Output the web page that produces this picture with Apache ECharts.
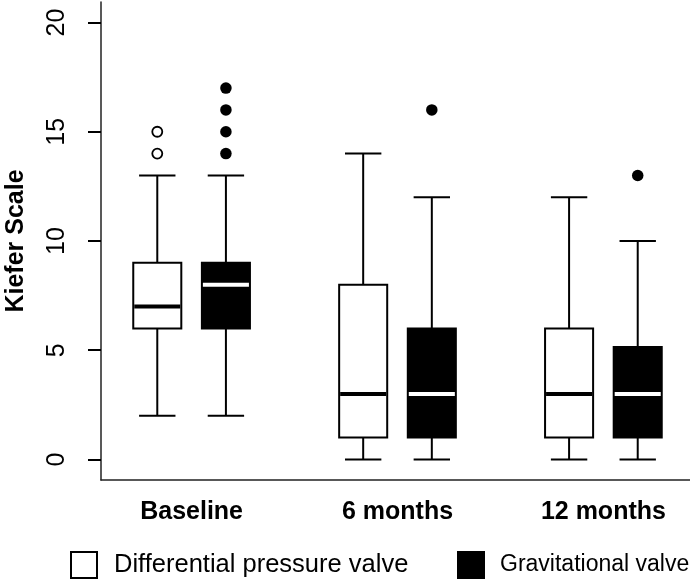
<!DOCTYPE html>
<html><head><meta charset="utf-8">
<script src="https://cdn.jsdelivr.net/npm/echarts@6/dist/echarts.min.js"></script>
<style>html,body{margin:0;padding:0;background:#fff}#c{width:690px;height:581px}</style>
</head><body><div id="c"></div>
<script>
const categories = ['Baseline', '6 months', '12 months'];
const seriesNames = ['Differential pressure valve', 'Gravitational valve'];
// [lower whisker, Q1, median, Q3, upper whisker]
const differentialStats = [[2, 6, 7, 9, 13], [0, 1, 3, 8, 14], [0, 1, 3, 6, 12]];
const gravitationalStats = [[2, 6, 8, 9, 13], [0, 1, 3, 6, 12], [0, 1, 3, 5.15, 10]];
// [category index, value]
const differentialOutliers = [[0, 14], [0, 15]];
const gravitationalOutliers = [[0, 14], [0, 15], [0, 16], [0, 17], [1, 16], [2, 13]];
const yTicks = [0, 5, 10, 15, 20];

const FONT = '"Liberation Sans", Arial, sans-serif';
const BOX_W = 0.70, CAP_W = 0.53;
const slot = (ci, si) => ci * 3 + 1 + si;

function makeRender(fill, medColor) {
  return function (params, api) {
    const x = api.value(0);
    const pLo = api.coord([x, api.value(1)]);
    const pQ1 = api.coord([x, api.value(2)]);
    const pMed = api.coord([x, api.value(3)]);
    const pQ3 = api.coord([x, api.value(4)]);
    const pHi = api.coord([x, api.value(5)]);
    const bw = api.size([BOX_W, 0])[0];
    const cw = api.size([CAP_W, 0])[0];
    const cx = pLo[0];
    const st = { stroke: '#000', lineWidth: 2 };
    return {
      type: 'group', children: [
        { type: 'line', shape: { x1: cx, y1: pQ3[1], x2: cx, y2: pHi[1] }, style: st },
        { type: 'line', shape: { x1: cx, y1: pQ1[1], x2: cx, y2: pLo[1] }, style: st },
        { type: 'line', shape: { x1: cx - cw / 2, y1: pHi[1], x2: cx + cw / 2, y2: pHi[1] }, style: st },
        { type: 'line', shape: { x1: cx - cw / 2, y1: pLo[1], x2: cx + cw / 2, y2: pLo[1] }, style: st },
        { type: 'rect', shape: { x: cx - bw / 2, y: pQ3[1], width: bw, height: pQ1[1] - pQ3[1] }, style: { fill: fill, stroke: '#000', lineWidth: 2 } },
        { type: 'line', shape: { x1: cx - bw / 2 + 1, y1: pMed[1], x2: cx + bw / 2 - 1, y2: pMed[1] }, style: { stroke: medColor, lineWidth: 4 } }
      ]
    };
  };
}

const chart = echarts.init(document.getElementById('c'), null, { renderer: 'canvas' });
chart.setOption({
  animation: false,
  backgroundColor: '#fff',
  grid: { left: 101, top: 2, width: 593, height: 478, containLabel: false, outerBoundsMode: 'none' },
  xAxis: {
    type: 'value', min: 0.18, max: 8.82,
    splitLine: { show: false },
    axisLine: { show: true, onZero: false, lineStyle: { color: '#222', width: 1.5 } },
    axisTick: { show: false },
    axisLabel: {
      customValues: categories.map((c, i) => slot(i, 0) + 0.5),
      formatter: v => categories[Math.round((v - 1.5) / 3)],
      fontFamily: FONT, fontSize: 25, fontWeight: 'bold', color: '#000', margin: 20
    }
  },
  yAxis: {
    type: 'value', min: -0.94, max: 20.94,
    name: 'Kiefer Scale', nameLocation: 'middle', nameGap: 72, nameRotate: 90,
    nameTextStyle: { fontFamily: FONT, fontSize: 25, fontWeight: 'bold', color: '#000' },
    splitLine: { show: false },
    axisLine: { show: true, onZero: false, lineStyle: { color: '#222', width: 1.5 } },
    axisTick: { show: true, customValues: yTicks, length: 13, lineStyle: { color: '#000', width: 2 } },
    axisLabel: {
      customValues: yTicks, rotate: 90, margin: 31,
      fontFamily: FONT, fontSize: 25, color: '#000'
    }
  },
  legend: [
    {
      left: 70, top: 551, padding: 0, itemWidth: 26, itemHeight: 26,
      textStyle: { fontFamily: FONT, fontSize: 25.5, color: '#000', padding: [0, 0, 0, 12] },
      data: [{ name: seriesNames[0], icon: 'rect', itemStyle: { color: '#fff', borderColor: '#000', borderWidth: 2 } }]
    },
    {
      left: 457, top: 551, padding: 0, itemWidth: 26, itemHeight: 26,
      textStyle: { fontFamily: FONT, fontSize: 23, color: '#000', padding: [0, 0, 0, 11] },
      data: [{ name: seriesNames[1], icon: 'rect', itemStyle: { color: '#000', borderColor: '#000', borderWidth: 2 } }]
    }
  ],
  series: [
    {
      name: seriesNames[0], type: 'custom', renderItem: makeRender('#fff', '#000'),
      encode: { x: 0, y: [1, 2, 3, 4, 5] },
      data: differentialStats.map((s, i) => [slot(i, 0)].concat(s))
    },
    {
      name: seriesNames[1], type: 'custom', renderItem: makeRender('#000', '#fff'),
      encode: { x: 0, y: [1, 2, 3, 4, 5] },
      data: gravitationalStats.map((s, i) => [slot(i, 1)].concat(s))
    },
    {
      name: seriesNames[0], type: 'scatter', symbol: 'circle', symbolSize: 10,
      itemStyle: { color: '#fff', borderColor: '#000', borderWidth: 1.8, opacity: 1 },
      data: differentialOutliers.map(o => [slot(o[0], 0), o[1]])
    },
    {
      name: seriesNames[1], type: 'scatter', symbol: 'circle', symbolSize: 11.5,
      itemStyle: { color: '#000', borderColor: '#000', borderWidth: 0, opacity: 1 },
      data: gravitationalOutliers.map(o => [slot(o[0], 1), o[1]])
    }
  ]
});
</script>
</body></html>
